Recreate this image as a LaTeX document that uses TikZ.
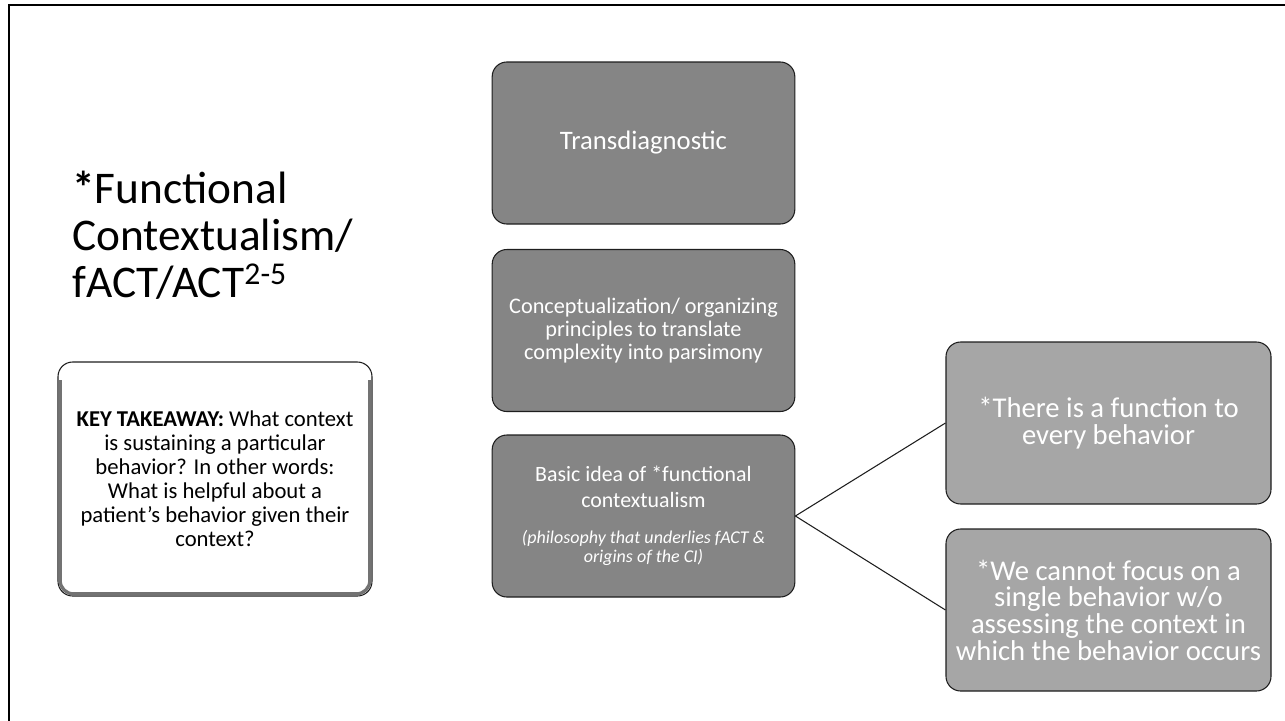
\documentclass[tikz,border=0pt]{standalone}
\usepackage{fontspec}
\setmainfont{Carlito}
\usepackage{xcolor}
\usepackage{tikz}
\usetikzlibrary{calc}
\usetikzlibrary{positioning}

\definecolor{darkbox}{RGB}{133,133,133}
\definecolor{lightbox}{RGB}{166,166,166}
\definecolor{edgeline}{RGB}{30,30,30}

\newcommand{\smallit}{\fontsize{13.5}{14}\selectfont\itshape}

\tikzset{
  tile/.style={draw=edgeline, line width=0.8pt, rounded corners=11pt, text=white, align=center, inner sep=2pt},
  midtile/.style={tile, fill=darkbox, minimum width=227pt, minimum height=121.5pt},
  sidetile/.style={tile, fill=lightbox, minimum width=243.75pt, minimum height=121.5pt,
    font=\fontsize{21.5}{20}\selectfont},
  keybox/.style={draw=edgeline, fill=white, line width=0.8pt, rounded corners=11pt, align=center,
    minimum width=235.5pt, minimum height=175.5pt, font=\fontsize{17}{18}\selectfont}
}

\begin{document}
\begin{tikzpicture} [x=0.75pt, y=-0.75pt]
\useasboundingbox (0,0) rectangle (1285,721);
\draw[black, line width=2.2pt] (9,721)--(9,5)--(1285,5);

% title
\node[anchor=base west, align=left, inner sep=0, font=\fontsize{34}{35}\selectfont] (title) at (72,297)
  {\textbf{*}Functional\\Contextualism/\\fACT/ACT\textsuperscript{2-5}};

% key takeaway
\node[keybox] (key) at (215,479) {\textbf{KEY TAKEAWAY:} What context\\is sustaining a particular\\behavior? In other words:\\What is helpful about a\\patient’s behavior given their\\context?};
\draw[black!55, line width=2.5pt, rounded corners=10pt]
  ([xshift=2pt,yshift=-14pt]key.north west) -- ([xshift=2pt,yshift=2pt]key.south west)
  -- ([xshift=-2pt,yshift=2pt]key.south east) -- ([xshift=-2pt,yshift=-14pt]key.north east);

% middle column
\node[midtile, font=\fontsize{20}{22}\selectfont] (trans) at (643.5,143) {Transdiagnostic};
\node[midtile, font=\fontsize{16.7}{17.5}\selectfont] (concept) at (643.5,330.5)
  {Conceptualization/ organizing\\principles to translate\\complexity into parsimony};
\node[midtile, font=\fontsize{16.4}{19}\selectfont] (basic) at (643.5,516)
  {Basic idea of *functional\\contextualism\\[8.5pt]
   \smallit (philosophy that underlies fACT \&\\[-5pt]\smallit origins of the CI)};

% right column
\node[sidetile] (func) at (1108.5,423) {*There is a function to\\every behavior};
\node[sidetile] (focus) at (1108.5,610) {*We cannot focus on a\\single behavior w/o\\assessing the context in\\which the behavior occurs};

\draw[edgeline, line width=0.8pt] (basic.east) -- (func.west);
\draw[edgeline, line width=0.8pt] (basic.east) -- (focus.west);
\end{tikzpicture}
\end{document}
